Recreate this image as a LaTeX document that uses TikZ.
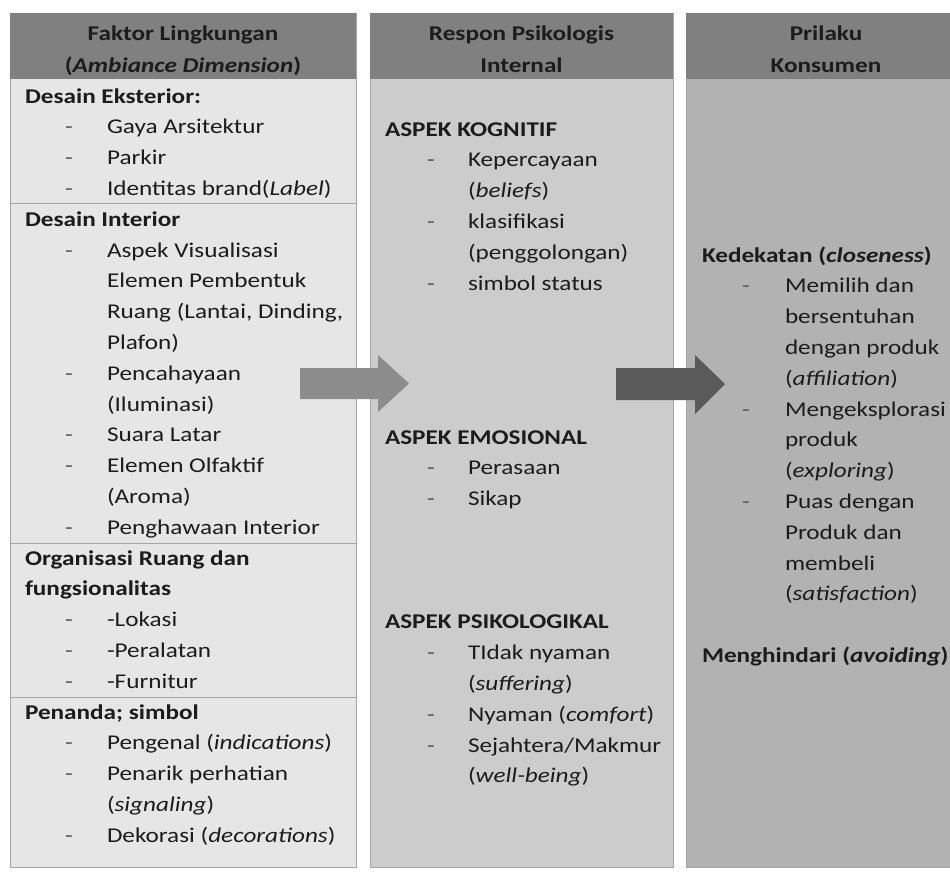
\documentclass[tikz,border=0pt]{standalone}
\usepackage{fontspec}
\setmainfont{Carlito}[FakeStretch=1.2]
\definecolor{hdrfill}{HTML}{808080}
\definecolor{colA}{HTML}{E6E6E6}
\definecolor{colB}{HTML}{CCCCCC}
\definecolor{colC}{HTML}{B2B2B2}
\definecolor{edge}{HTML}{A6A6A6}
\definecolor{ink}{HTML}{1C1C1C}
\definecolor{dashc}{HTML}{555555}
\definecolor{arrowA}{HTML}{8C8C8C}
\definecolor{arrowB}{HTML}{5A5A5A}
\newcommand{\txtsize}{\fontsize{21}{30.8}\selectfont}
\begin{document}
\begin{tikzpicture}[x=1pt,y=-1pt,
  every node/.style={inner sep=0pt,outer sep=0pt,text=ink,font=\txtsize},
  head/.style={anchor=base west,font=\txtsize\bfseries},
  item/.style={anchor=base west},
  dsh/.style={anchor=base west,text=dashc},
  ttl/.style={anchor=base,font=\txtsize\bfseries},
  colbox/.style={draw=edge,line width=0.6pt},
  divider/.style={draw=edge,line width=0.8pt}]
\useasboundingbox (0,0) rectangle (950,871);
\clip (0,0) rectangle (950,871);

% column bodies and header bands
\fill[white] (0,0) rectangle (950,871);
\filldraw[colbox,fill=colA] (10,13) rectangle (356,867);
\filldraw[colbox,fill=colB] (370,13) rectangle (673,867);
\filldraw[colbox,fill=colC] (686,13) rectangle (966,867);
\fill[hdrfill] (10,13) rectangle (356,79);
\fill[hdrfill] (370,13) rectangle (673,79);
\fill[hdrfill] (686,13) rectangle (966,79);

% section rules in the first column
\draw[divider] (10,203) -- (356,203);
\draw[divider] (10,543) -- (356,543);
\draw[divider] (10,697) -- (356,697);

% column titles
\node[ttl] (t1a) at (183,40) {Faktor Lingkungan};
\node[ttl] (t1b) at (183,72) {(\textit{Ambiance Dimension})};
\node[ttl] (t2a) at (521.5,40) {Respon Psikologis};
\node[ttl] (t2b) at (521.5,72) {Internal};
\node[ttl] (t3a) at (826,40) {Prilaku};
\node[ttl] (t3b) at (826,72) {Konsumen};

% first column: environmental factors
\node[head] (a0) at (25,103) {Desain Eksterior:};
\node[dsh] (d1) at (65,133.8) {-}; \node[item] (a1) at (107,133.8) {Gaya Arsitektur};
\node[dsh] (d2) at (65,164.6) {-}; \node[item] (a2) at (107,164.6) {Parkir};
\node[dsh] (d3) at (65,195.4) {-}; \node[item] (a3) at (107,195.4) {Identitas brand(\textit{Label})};
\node[head] (a4) at (25,226.2) {Desain Interior};
\node[dsh] (d5) at (65,257) {-}; \node[item] (a5) at (107,257) {Aspek Visualisasi};
\node[item] (a6) at (107,287.8) {Elemen Pembentuk};
\node[item] (a7) at (107,318.6) {Ruang (Lantai, Dinding,};
\node[item] (a8) at (107,349.4) {Plafon)};
\node[dsh] (d9) at (65,380.2) {-}; \node[item] (a9) at (107,380.2) {Pencahayaan};
\node[item] (a10) at (107,411) {(Iluminasi)};
\node[dsh] (d11) at (65,441.8) {-}; \node[item] (a11) at (107,441.8) {Suara Latar};
\node[dsh] (d12) at (65,472.6) {-}; \node[item] (a12) at (107,472.6) {Elemen Olfaktif};
\node[item] (a13) at (107,503.4) {(Aroma)};
\node[dsh] (d14) at (65,534.2) {-}; \node[item] (a14) at (107,534.2) {Penghawaan Interior};
\node[head] (a15) at (25,565) {Organisasi Ruang dan};
\node[head] (a16) at (25,595.8) {fungsionalitas};
\node[dsh] (d17) at (65,626.6) {-}; \node[item] (a17) at (107,626.6) {-Lokasi};
\node[dsh] (d18) at (65,657.4) {-}; \node[item] (a18) at (107,657.4) {-Peralatan};
\node[dsh] (d19) at (65,688.2) {-}; \node[item] (a19) at (107,688.2) {-Furnitur};
\node[head] (a20) at (25,719) {Penanda; simbol};
\node[dsh] (d21) at (65,749.8) {-}; \node[item] (a21) at (107,749.8) {Pengenal (\textit{indications})};
\node[dsh] (d22) at (65,780.6) {-}; \node[item] (a22) at (107,780.6) {Penarik perhatian};
\node[item] (a23) at (107,811.4) {(\textit{signaling})};
\node[dsh] (d24) at (65,842.2) {-}; \node[item] (a24) at (107,842.2) {Dekorasi (\textit{decorations})};

% second column: internal psychological response
\node[head] (b0) at (385,136) {ASPEK KOGNITIF};
\node[dsh] (e1) at (427,166.8) {-}; \node[item] (b1) at (468,166.8) {Kepercayaan};
\node[item] (b2) at (468,197.6) {(\textit{beliefs})};
\node[dsh] (e3) at (427,228.4) {-}; \node[item] (b3) at (468,228.4) {klasifikasi};
\node[item] (b4) at (468,259.2) {(penggolongan)};
\node[dsh] (e5) at (427,290) {-}; \node[item] (b5) at (468,290) {simbol status};
\node[head] (b10) at (385,444) {ASPEK EMOSIONAL};
\node[dsh] (e11) at (427,474.8) {-}; \node[item] (b11) at (468,474.8) {Perasaan};
\node[dsh] (e12) at (427,505.6) {-}; \node[item] (b12) at (468,505.6) {Sikap};
\node[head] (b16) at (385,628.8) {ASPEK PSIKOLOGIKAL};
\node[dsh] (e17) at (427,659.6) {-}; \node[item] (b17) at (468,659.6) {TIdak nyaman};
\node[item] (b18) at (468,690.4) {(\textit{suffering})};
\node[dsh] (e19) at (427,721.2) {-}; \node[item] (b19) at (468,721.2) {Nyaman (\textit{comfort})};
\node[dsh] (e20) at (427,752) {-}; \node[item] (b20) at (468,752) {Sejahtera/Makmur};
\node[item] (b21) at (468,782.8) {(\textit{well-being})};

% third column: consumer behaviour
\node[head] (c0) at (702,262) {Kedekatan (\textit{closeness})};
\node[dsh] (f1) at (742,292.8) {-}; \node[item] (c1) at (785,292.8) {Memilih dan};
\node[item] (c2) at (785,323.6) {bersentuhan};
\node[item] (c3) at (785,354.4) {dengan produk};
\node[item] (c4) at (785,385.2) {(\textit{affiliation})};
\node[dsh] (f5) at (742,416) {-}; \node[item] (c5) at (785,416) {Mengeksplorasi};
\node[item] (c6) at (785,446.8) {produk};
\node[item] (c7) at (785,477.6) {(\textit{exploring})};
\node[dsh] (f8) at (742,508.4) {-}; \node[item] (c8) at (785,508.4) {Puas dengan};
\node[item] (c9) at (785,539.2) {Produk dan};
\node[item] (c10) at (785,570) {membeli};
\node[item] (c11) at (785,600.8) {(\textit{satisfaction})};
\node[head] (c13) at (702,662.4) {Menghindari (\textit{avoiding})};

% block arrows between the columns
\fill[arrowA] (300,368) -- (378,368) -- (378,355) -- (409,383.5)
  -- (378,412) -- (378,399) -- (300,399) -- cycle;
\fill[arrowB] (616,368) -- (695,368) -- (695,355) -- (725,384)
  -- (695,414) -- (695,400) -- (616,400) -- cycle;
\end{tikzpicture}
\end{document}
